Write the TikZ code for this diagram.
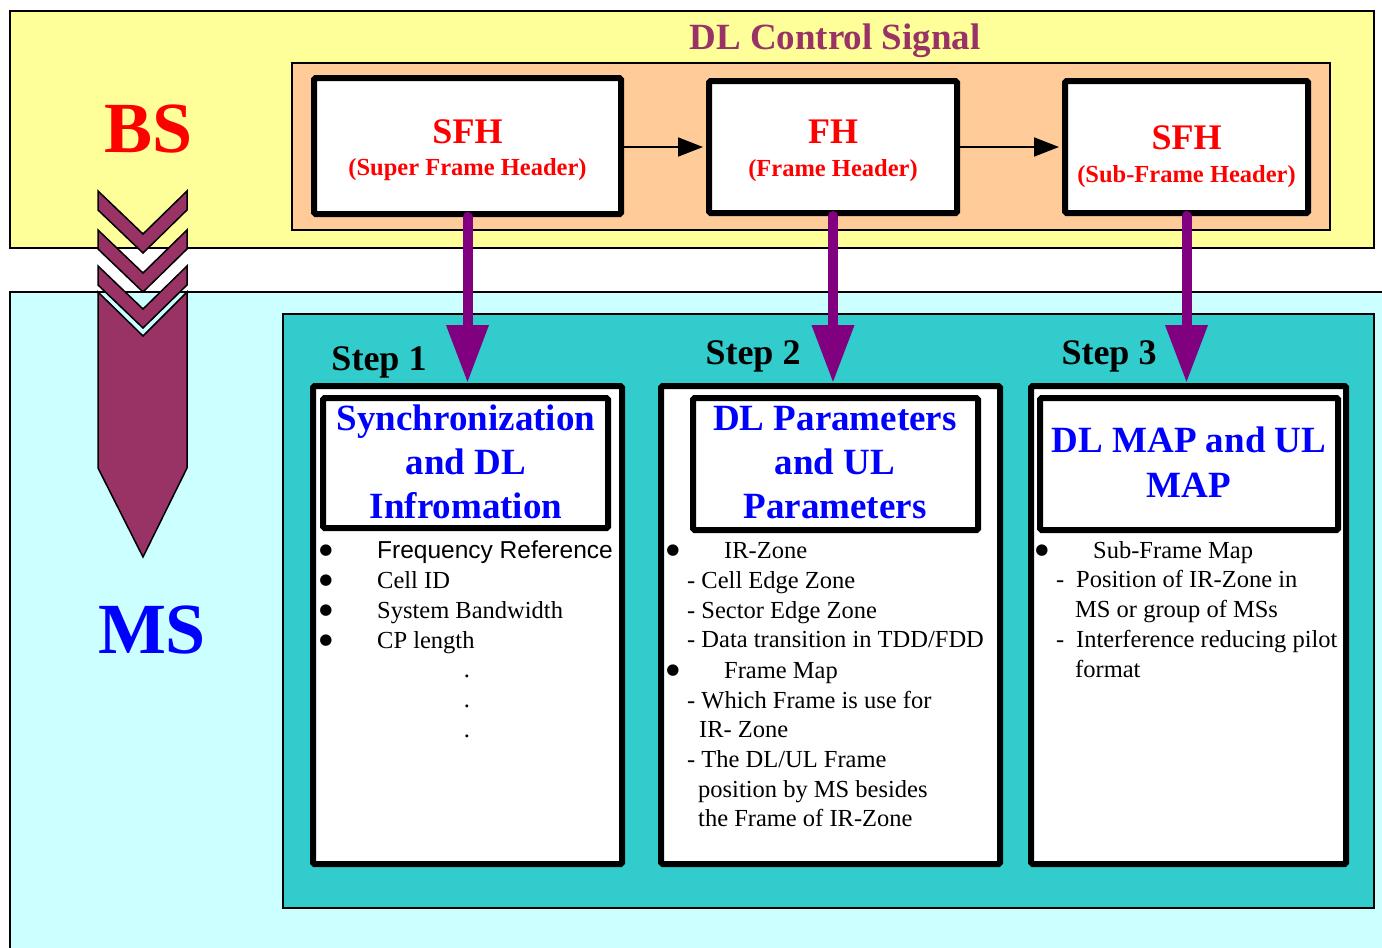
\documentclass[tikz,border=0pt]{standalone}
\usepackage{fontspec}
\setmainfont{Liberation Serif}
\newfontfamily\arialf{Liberation Sans}
\newfontfamily\dejavuf{DejaVu Sans}
\usetikzlibrary{arrows.meta,calc}
\definecolor{ylw}{HTML}{FFFF99}
\definecolor{org}{HTML}{FFCC99}
\definecolor{lcyan}{HTML}{CCFFFF}
\definecolor{teal2}{HTML}{33CCCC}
\definecolor{maroon2}{HTML}{993366}
\definecolor{purp}{HTML}{800080}
\definecolor{red2}{HTML}{FF0000}
\definecolor{blue2}{HTML}{0000FF}
\begin{document}
\begin{tikzpicture}[x=1pt,y=-1pt,
  panel/.style={draw=black, line width=1.6pt, inner sep=0pt},
  hdrbox/.style={draw=black, line width=6pt, fill=white, rounded corners=1.5pt, inner sep=0pt},
  hdrbig/.style={anchor=base, text=red2, font=\fontsize{36}{40}\selectfont\bfseries, inner sep=0pt},
  hdrsmall/.style={anchor=base, text=red2, font=\fontsize{24.5}{28}\selectfont\bfseries, inner sep=0pt},
  stepbox/.style={draw=black, line width=6pt, fill=white, rounded corners=1.5pt, inner sep=0pt},
  titlebox/.style={draw=black, line width=6pt, fill=white, rounded corners=1.5pt, inner sep=0pt},
  titletext/.style={anchor=base, text=blue2, font=\fontsize{37}{44}\selectfont\bfseries, inner sep=0pt},
  steplabel/.style={anchor=base, text=black, font=\fontsize{36}{40}\selectfont\bfseries, inner sep=0pt},
  body/.style={anchor=base west, text=black, font=\fontsize{24.5}{30}\selectfont, inner sep=0pt},
  bul/.style={anchor=center, text=black, font=\fontsize{15}{16}\selectfont\dejavuf, inner sep=0pt},
  thinarrow/.style={draw=black, line width=1.8pt, -{Triangle[length=25pt,width=19pt]}, shorten >=3pt},
  fatarrow/.style={draw=purp, line width=10pt, line cap=round, -{Triangle[length=58pt,width=40pt]}},
  chev/.style={draw=black, line width=1.5pt, fill=maroon2, line join=miter}
]
\useasboundingbox (0,0) rectangle (1382,948);
\fill[white] (0,0) rectangle (1382,948);

% panels
\node[panel, fill=lcyan, minimum width=1380, minimum height=670] (ms) at (700,627) {};
\node[panel, fill=ylw, minimum width=1364, minimum height=237] (bs) at (692,129.5) {};
\node[panel, fill=org, minimum width=1038, minimum height=167] (ctrl) at (811,146.5) {};
\node[panel, fill=teal2, minimum width=1091, minimum height=594] (msarea) at (828.5,611) {};

% labels BS / MS
\node[anchor=base, text=red2, font=\fontsize{72}{80}\selectfont\bfseries, inner sep=0pt] (bslabel) at (149,152) {BS};
\node[anchor=base, text=blue2, font=\fontsize{72}{80}\selectfont\bfseries, inner sep=0pt] (mslabel) at (152,653) {MS};
\node[anchor=base, text=maroon2, font=\fontsize{37}{40}\selectfont\bfseries, inner sep=0pt] (ctrltitle) at (835,49) {DL Control Signal};

% chevrons and big arrow
\draw[chev] (98,292) -- (143,336) -- (187,292) -- (187,468) -- (143,557) -- (98,468) -- cycle;
\foreach \t in {191,230,266} {
  \draw[chev] (98,\t) -- (143,\t+43) -- (187,\t) -- (187,\t+19) -- (143,\t+62) -- (98,\t+19) -- cycle;
}

% header boxes
\node[hdrbox, minimum width=307, minimum height=136] (h1) at (467.5,146) {};
\node[hdrbox, minimum width=248, minimum height=132] (h2) at (833,147) {};
\node[hdrbox, minimum width=243, minimum height=132] (h3) at (1186.5,147) {};
\node[hdrbig] (h1a) at (467.5,143) {SFH};
\node[hdrsmall] (h1b) at (467.5,175) {(Super Frame Header)};
\node[hdrbig] (h2a) at (833,143) {FH};
\node[hdrsmall] (h2b) at (833,176) {(Frame Header)};
\node[hdrbig] (h3a) at (1186.5,149) {SFH};
\node[hdrsmall] (h3b) at (1186.5,182) {(Sub-Frame Header)};
\draw[thinarrow] (h1.east |- 0,147) -- (h2.west |- 0,147);
\draw[thinarrow] (h2.east |- 0,147) -- (h3.west |- 0,147);

% step boxes
\node[stepbox, minimum width=309, minimum height=478] (s1) at (467.5,625) {};
\node[stepbox, minimum width=339, minimum height=478] (s2) at (830.5,625) {};
\node[stepbox, minimum width=315, minimum height=478] (s3) at (1188.5,625) {};
\node[titlebox, minimum width=285, minimum height=130] (t1) at (465.5,463) {};
\node[titlebox, minimum width=285, minimum height=132] (t2) at (835.5,464) {};
\node[titlebox, minimum width=298, minimum height=132] (t3) at (1189,464) {};

\node[steplabel] (l1) at (379,370) {Step 1};
\node[steplabel] (l2) at (753,364) {Step 2};
\node[steplabel] (l3) at (1109,364) {Step 3};

% titles
\node[titletext] (t1a) at (466,430) {Synchronization};
\node[titletext] (t1b) at (466,474) {and DL};
\node[titletext] (t1c) at (466,518) {Infromation};
\node[titletext] (t2a) at (835,430) {DL Parameters};
\node[titletext] (t2b) at (835,474) {and UL};
\node[titletext] (t2c) at (835,518) {Parameters};
\node[titletext] (t3a) at (1189,452) {DL MAP and UL};
\node[titletext] (t3b) at (1189,497) {MAP};

% fat arrows
\draw[fatarrow] (h1.south) -- (h1.south |- s1.north);
\draw[fatarrow] (h2.south) -- (h2.south |- s2.north);
\draw[fatarrow] (h3.south) -- (h3.south |- s3.north);

% body box 1
\node[bul] (b1) at (326,551) {●};
\node[body, font=\fontsize{24.5}{30}\selectfont\arialf] (b1t) at (377,558) {Frequency Reference};
\node[bul] (b2) at (326,581) {●};
\node[body] (b2t) at (377,588) {Cell ID};
\node[bul] (b3) at (326,611) {●};
\node[body] (b3t) at (377,618) {System Bandwidth};
\node[bul] (b4) at (326,641) {●};
\node[body] (b4t) at (377,648) {CP length};
\node[body, anchor=base] (d1) at (467,677) {.};
\node[body, anchor=base] (d2) at (467,707) {.};
\node[body, anchor=base] (d3) at (467,737) {.};

% body box 2
\node[bul] (c1) at (673,551) {●};
\node[body] (c1t) at (724,558) {IR-Zone};
\node[body] (c2) at (687,588) {- Cell Edge Zone};
\node[body] (c3) at (687,618) {- Sector Edge Zone};
\node[body] (c4) at (687,647) {- Data transition in TDD/FDD};
\node[bul] (c5) at (673,671) {●};
\node[body] (c5t) at (724,678) {Frame Map};
\node[body] (c6) at (687,708) {- Which Frame is use for};
\node[body] (c7) at (699,737) {IR- Zone};
\node[body] (c8) at (687,767) {- The DL/UL Frame};
\node[body] (c9) at (698,797) {position by MS besides};
\node[body] (c10) at (698,826) {the Frame of IR-Zone};

% body box 3
\node[bul] (e1) at (1042,551) {●};
\node[body] (e1t) at (1093,558) {Sub-Frame Map};
\node[body] (e2) at (1056,587) {-};
\node[body] (e2t) at (1076,587) {Position of IR-Zone in};
\node[body] (e3) at (1075,617) {MS or group of MSs};
\node[body] (e4) at (1056,647) {-};
\node[body] (e4t) at (1076,647) {Interference reducing pilot};
\node[body] (e5) at (1075,677) {format};
\end{tikzpicture}
\end{document}
